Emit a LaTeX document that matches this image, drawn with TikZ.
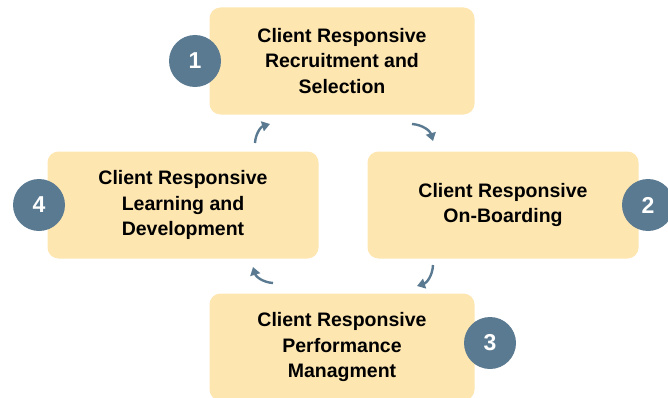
\documentclass[tikz,border=0pt]{standalone}
\usepackage{fontspec}
\setmainfont{Liberation Sans}
\usepackage{tikz}
\usetikzlibrary{positioning,arrows.meta}
\definecolor{boxfill}{HTML}{FEE6B1}
\definecolor{slate}{HTML}{5A7A92}

\begin{document}
\begin{tikzpicture}[x=1pt, y=1pt, node distance=2cm, on grid,
    stage/.style={fill=boxfill, rounded corners=11pt, minimum width=265pt,
        minimum height=107pt, align=center,
        font=\fontsize{19.5}{25.5}\selectfont\bfseries},
    wide/.style={minimum width=271pt},
    badge/.style={circle, fill=slate, minimum size=52pt, inner sep=0pt,
        text=white, font=\fontsize{23}{23}\selectfont\bfseries},
    cycle/.style={draw=slate, line width=2.4pt, bend left=35,
        -{Triangle[length=8pt, width=10pt]}}]

    \useasboundingbox (0,0) rectangle (668,397);

    \node[stage] (rs) at (342,336) {Client Responsive\\Recruitment and\\Selection};
    \node[stage, wide] (ob) [below right=144pt and 161pt of rs] {Client Responsive\\On-Boarding};
    \node[stage, wide] (ld) [below left=144pt and 159pt of rs] {Client Responsive\\Learning and\\Development};
    \node[stage] (pm) [below=286pt of rs] {Client Responsive\\Performance\\Managment};

    \node[badge] (n1) [left=147pt of rs] {1};
    \node[badge] (n2) [right=145pt of ob] {2};
    \node[badge] (n3) [above right=4pt and 148pt of pm] {3};
    \node[badge] (n4) [left=144pt of ld] {4};

    % small arrows between the stages
    \coordinate (a1) at (255,254);
    \coordinate (b1) at (270,273);
    \coordinate (a2) at (412,273);
    \coordinate (b2) at (433,256);
    \coordinate (a3) at (433,132);
    \coordinate (b3) at (417,111);
    \coordinate (a4) at (273,114);
    \coordinate (b4) at (253,130);

    \draw[cycle] (a1) to (b1);
    \draw[cycle] (a2) to (b2);
    \draw[cycle] (a3) to (b3);
    \draw[cycle] (a4) to (b4);

\end{tikzpicture}
\end{document}
